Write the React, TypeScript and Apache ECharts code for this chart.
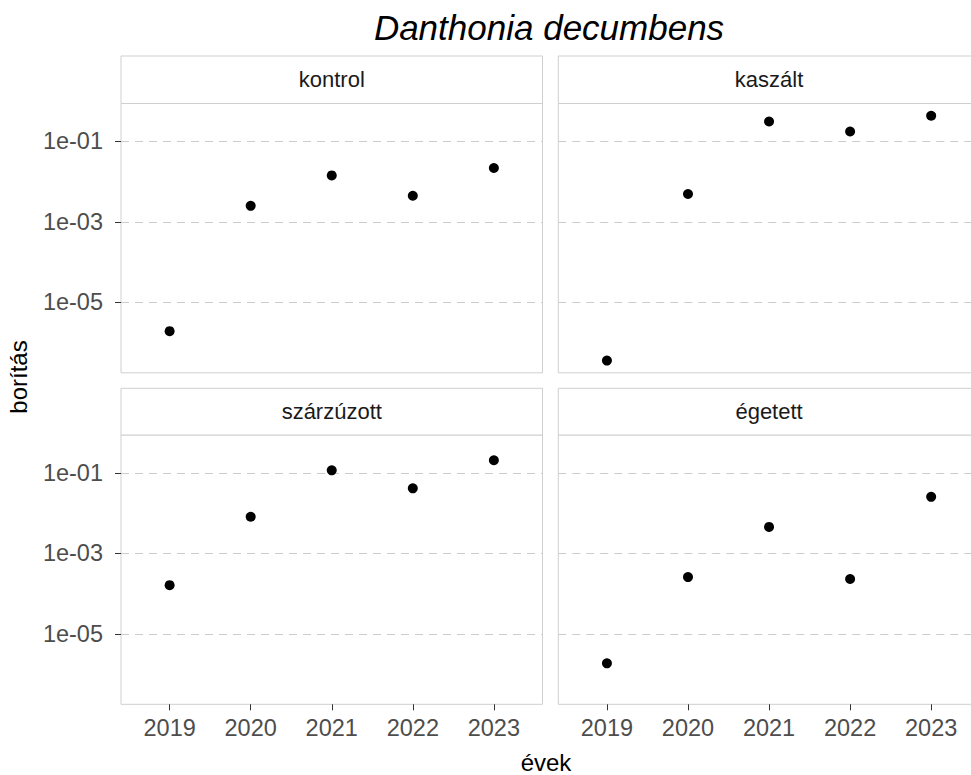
import React, { useEffect, useRef } from "react";
import * as echarts from "echarts";

const years = [2019, 2020, 2021, 2022, 2023];
const panelNames = ["kontrol", "kaszált", "szárzúzott", "égetett"];
const kontrol = [1.93e-6, 2.5e-3, 0.0142, 0.00445, 0.0217];
const kaszalt = [3.6e-7, 0.0049, 0.31, 0.175, 0.43];
const szarzuzott = [1.62e-4, 0.0081, 0.115, 0.041, 0.204];
const egetett = [1.86e-6, 2.57e-4, 0.00452, 2.3e-4, 0.0252];
const yTicks = [1e-1, 1e-3, 1e-5];

const title = "Danthonia decumbens";
const xTitle = "évek";
const yTitle = "borítás";

const FONT = "Liberation Sans, Arial, sans-serif";

export default function App() {
  const ref = useRef<HTMLDivElement>(null);

  useEffect(() => {
    if (!ref.current) return;
    const chart = echarts.init(ref.current, null, { renderer: "svg" });

    const seriesData = [kontrol, kaszalt, szarzuzott, egetett];
    const allLogs = seriesData.flat().map((v) => Math.log10(v));
    const dMin = Math.min(...allLogs);
    const dMax = Math.max(...allLogs);
    const R = dMax - dMin;
    const yMin = dMin - 0.05 * R;
    const yMax = dMax + 0.05 * R;
    const xMin = years[0] - 0.6;
    const xMax = years[years.length - 1] + 0.6;

    const lefts = [121, 558.3];
    const tops = [103.5, 435];
    const stripTops = [56, 388.3];
    const pw = 421.5;
    const ph = 269.3;

    const grids: any[] = [];
    const xAxes: any[] = [];
    const yAxes: any[] = [];
    const series: any[] = [];
    const graphics: any[] = [];

    const tickLog = yTicks.map((t) => Math.log10(t));
    const fmtY = (v: number) => {
      const e = Math.round(v);
      return "1e" + (e < 0 ? "-" : "+") + String(Math.abs(e)).padStart(2, "0");
    };

    for (let i = 0; i < 4; i++) {
      const col = i % 2;
      const row = Math.floor(i / 2);
      const left = lefts[col];
      const top = tops[row];
      grids.push({
        left,
        top,
        width: pw,
        height: ph,
        outerBoundsMode: "none",
        containLabel: false,
        show: true,
        borderColor: "#cfcfcf",
        borderWidth: 1,
        backgroundColor: "#ffffff",
      });
      xAxes.push({
        type: "value",
        gridIndex: i,
        min: xMin,
        max: xMax,
        axisLine: { show: false },
        splitLine: { show: false },
        axisTick: {
          show: row === 1,
          customValues: years,
          length: 6,
          lineStyle: { color: "#333333", width: 1 },
        },
        axisLabel: {
          show: row === 1,
          customValues: years,
          margin: 12,
          fontSize: 23.5,
          color: "#4d4d4d",
          fontFamily: FONT,
          formatter: (v: number) => String(v),
        },
      });
      yAxes.push({
        type: "value",
        gridIndex: i,
        min: yMin,
        max: yMax,
        axisLine: { show: false },
        splitLine: { show: false },
        axisTick: {
          show: col === 0,
          customValues: tickLog,
          length: 6,
          lineStyle: { color: "#333333", width: 1 },
        },
        axisLabel: {
          show: col === 0,
          customValues: tickLog,
          margin: 18,
          fontSize: 23.5,
          color: "#4d4d4d",
          fontFamily: FONT,
          formatter: fmtY,
        },
      });
      series.push({
        type: "scatter",
        xAxisIndex: i,
        yAxisIndex: i,
        z: 3,
        symbol: "circle",
        symbolSize: 10,
        itemStyle: { color: "#000000", opacity: 1 },
        data: years.map((y, k) => [y, Math.log10(seriesData[i][k])]),
        markLine: {
          silent: true,
          z: 1,
          symbol: "none",
          label: { show: false },
          lineStyle: { color: "#cccccc", type: [8, 6], width: 1 },
          data: tickLog.map((t) => ({ yAxis: t })),
        },
      });
      const sTop = stripTops[row];
      graphics.push({
        type: "rect",
        shape: { x: left, y: sTop, width: pw, height: top - sTop },
        style: { fill: "#ffffff", stroke: "#cfcfcf", lineWidth: 1 },
      });
      graphics.push({
        type: "text",
        x: left + pw / 2,
        y: sTop + (top - sTop) / 2,
        style: {
          text: panelNames[i],
          fontSize: 22,
          fontFamily: FONT,
          fill: "#1a1a1a",
          textAlign: "center",
          textVerticalAlign: "middle",
        },
      });
    }

    graphics.push({
      type: "text",
      x: 549,
      y: 27,
      style: {
        text: title,
        fontSize: 35,
        fontStyle: "italic",
        fontFamily: FONT,
        fill: "#000000",
        textAlign: "center",
        textVerticalAlign: "middle",
      },
    });
    graphics.push({
      type: "text",
      x: 546,
      y: 762,
      style: {
        text: xTitle,
        fontSize: 24,
        fontFamily: FONT,
        fill: "#000000",
        textAlign: "center",
        textVerticalAlign: "middle",
      },
    });
    graphics.push({
      type: "text",
      x: 18,
      y: 377,
      rotation: Math.PI / 2,
      style: {
        text: yTitle,
        fontSize: 24,
        fontFamily: FONT,
        fill: "#000000",
        textAlign: "center",
        textVerticalAlign: "middle",
      },
    });

    chart.setOption({
      animation: false,
      backgroundColor: "#ffffff",
      textStyle: { fontFamily: FONT },
      grid: grids,
      xAxis: xAxes,
      yAxis: yAxes,
      series,
      graphic: { elements: graphics },
    });

    return () => chart.dispose();
  }, []);

  return (
    <div
      ref={ref}
      style={{ position: "fixed", left: 0, top: 0, width: 971, height: 775 }}
    />
  );
}
